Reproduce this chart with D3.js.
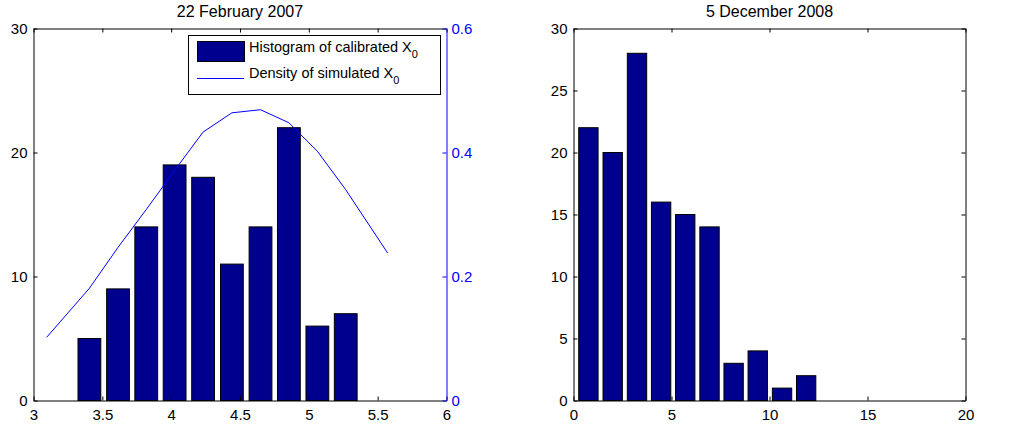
<!DOCTYPE html>
<html>
<head>
<meta charset="utf-8">
<script src="https://cdn.jsdelivr.net/npm/d3@7"></script>
<style>
  body { margin: 0; background: #fff; }
  svg { display: block; font-family: "Liberation Sans", Arial, Helvetica, sans-serif; }
</style>
</head>
<body>
<svg id="chart" width="1012" height="428"></svg>
<script>
// left panel: histogram of calibrated X0 (22 Feb 2007)
const leftCenters = [3.199, 3.406, 3.614, 3.819, 4.025, 4.232, 4.441, 4.649, 4.855, 5.062, 5.268, 5.475];
const leftCounts  = [0, 5, 9, 14, 19, 18, 11, 14, 22, 6, 7, 0];
const leftBinWidth = 0.207;

// density of simulated X0 (right axis)
const densityX = [3.096, 3.406, 3.614, 3.819, 4.025, 4.232, 4.441, 4.649, 4.855, 5.062, 5.268, 5.572];
const densityY = [0.102, 0.181, 0.247, 0.308, 0.371, 0.433, 0.464, 0.469, 0.448, 0.402, 0.340, 0.238];

// right panel: 5 Dec 2008
const rightCenters = [0.76, 2.0, 3.24, 4.47, 5.70, 6.94, 8.17, 9.40, 10.64, 11.87, 13.10, 14.34, 15.57, 16.80, 18.04, 19.27];
const rightCounts  = [22, 20, 28, 16, 15, 14, 3, 4, 1, 2, 0, 0, 0, 0, 0, 0];
const rightBinWidth = 1.234;

const leftXTicks = [3, 3.5, 4, 4.5, 5, 5.5, 6];
const leftYTicks = [0, 10, 20, 30];
const densityTicks = [0, 0.2, 0.4, 0.6];
const rightXTicks = [0, 5, 10, 15, 20];
const rightYTicks = [0, 5, 10, 15, 20, 25, 30];

const titles = ["22 February 2007", "5 December 2008"];

const svg = d3.select("#chart");
const barFill = "#00008f";
const blue = "#0000ff";
const fontSize = 15;
const tickLen = 4;

const plotTop = 28.5, plotBottom = 400.5;

function styleAxis(g, color) {
    g.attr("font-family", null).attr("font-size", null);
    g.select(".domain").attr("stroke", color).attr("stroke-width", 1);
    g.selectAll(".tick line").attr("stroke", color);
    g.selectAll(".tick text").attr("fill", color).style("font-size", fontSize + "px");
}

function drawPanel(opt) {
    const x = d3.scaleLinear().domain(opt.xDomain).range(opt.xRange);
    const y = d3.scaleLinear().domain([0, 30]).range([plotBottom, plotTop]);
    const g = svg.append("g");

    // bars
    const bw = (x(opt.binWidth * 0.8) - x(0));
    g.selectAll("rect.bar")
        .data(opt.centers.map((c, i) => ({ c: c, n: opt.counts[i] })))
        .join("rect")
        .attr("class", "bar")
        .attr("x", d => x(d.c) - bw / 2)
        .attr("y", d => y(d.n))
        .attr("width", bw)
        .attr("height", d => y(0) - y(d.n))
        .attr("fill", barFill)
        .attr("stroke", "#000")
        .attr("stroke-width", 1);

    // bottom axis, ticks inward
    const xa = g.append("g")
        .attr("transform", `translate(0,${plotBottom})`)
        .call(d3.axisBottom(x).tickValues(opt.xTicks).tickSizeInner(-tickLen).tickSizeOuter(0).tickPadding(9)
            .tickFormat(d3.format("")));
    styleAxis(xa, "#000");

    // top axis, ticks only
    const xt = g.append("g")
        .attr("transform", `translate(0,${plotTop})`)
        .call(d3.axisTop(x).tickValues(opt.xTicks).tickSizeInner(-tickLen).tickSizeOuter(0).tickFormat(""));
    styleAxis(xt, "#000");

    // left axis
    const ya = g.append("g")
        .attr("transform", `translate(${opt.xRange[0]},0)`)
        .call(d3.axisLeft(y).tickValues(opt.yTicks).tickSizeInner(-tickLen).tickSizeOuter(0).tickPadding(6));
    styleAxis(ya, "#000");

    g.append("text")
        .attr("x", (opt.xRange[0] + opt.xRange[1]) / 2)
        .attr("y", 17)
        .attr("text-anchor", "middle")
        .style("font-size", "16px")
        .text(opt.title);

    return { g, x, y };
}

// ---- left panel ----
const L = drawPanel({
    xDomain: [3, 6], xRange: [33.5, 446.5],
    centers: leftCenters, counts: leftCounts, binWidth: leftBinWidth,
    xTicks: leftXTicks, yTicks: leftYTicks, title: titles[0]
});

const yD = d3.scaleLinear().domain([0, 0.6]).range([plotBottom, plotTop]);
L.g.append("path")
    .datum(densityX.map((v, i) => [v, densityY[i]]))
    .attr("fill", "none")
    .attr("stroke", blue)
    .attr("stroke-width", 1)
    .attr("d", d3.line().x(d => L.x(d[0])).y(d => yD(d[1])));

const yDa = L.g.append("g")
    .attr("transform", `translate(446.5,0)`)
    .call(d3.axisRight(yD).tickValues(densityTicks).tickSizeInner(-tickLen).tickSizeOuter(0).tickPadding(5)
        .tickFormat(d3.format("")));
styleAxis(yDa, blue);

// legend
const lg = L.g.append("g");
lg.append("rect")
    .attr("x", 188.5).attr("y", 35.5).attr("width", 252).attr("height", 59)
    .attr("fill", "#fff").attr("stroke", "#000");
lg.append("rect")
    .attr("x", 197.5).attr("y", 41.5).attr("width", 47).attr("height", 20)
    .attr("fill", barFill).attr("stroke", "#000");
lg.append("line")
    .attr("x1", 197).attr("x2", 244).attr("y1", 78.5).attr("y2", 78.5)
    .attr("stroke", blue);
const legendItems = ["Histogram of calibrated X", "Density of simulated X"];
legendItems.forEach((t, i) => {
    const tx = lg.append("text")
        .attr("x", 249).attr("y", 52 + i * 26)
        .style("font-size", "14.5px");
    tx.append("tspan").text(t);
    tx.append("tspan").attr("dy", 6).style("font-size", "11px").text("0");
});

// ---- right panel ----
const R = drawPanel({
    xDomain: [0, 20], xRange: [573.5, 965.5],
    centers: rightCenters, counts: rightCounts, binWidth: rightBinWidth,
    xTicks: rightXTicks, yTicks: rightYTicks, title: titles[1]
});

const rya = R.g.append("g")
    .attr("transform", `translate(965.5,0)`)
    .call(d3.axisRight(R.y).tickValues(rightYTicks).tickSizeInner(-tickLen).tickSizeOuter(0).tickFormat(""));
styleAxis(rya, "#000");
</script>
</body>
</html>
